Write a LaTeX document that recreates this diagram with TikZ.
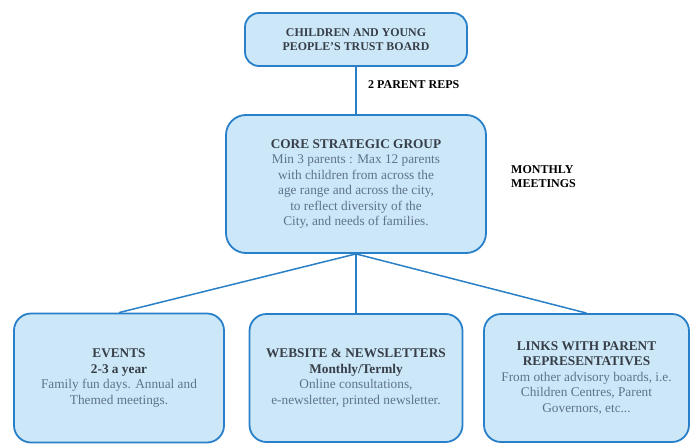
\documentclass[tikz,border=0pt]{standalone}
\usepackage{fontspec}
\setmainfont{Liberation Serif}
\usepackage{tikz}
\usetikzlibrary{shapes,trees,positioning}

\definecolor{boxfill}{RGB}{204,232,248}
\definecolor{boxline}{RGB}{41,128,200}
\definecolor{headtext}{RGB}{55,62,72}
\definecolor{bodytext}{RGB}{95,115,135}

\newcommand{\hd}[1]{{\bfseries\color{headtext}#1}}

\begin{document}
\begin{tikzpicture}[level distance=144.5pt,
                level 2/.style={level distance=194pt, sibling distance=233pt},
                box/.style = {draw=boxline, line width=1.8pt, fill=boxfill, rounded corners=17pt,
                              align=center, text=bodytext, inner sep=2pt,
                              font=\fontsize{13.3}{15.5}\selectfont},
                note/.style = {font=\fontsize{12}{14}\selectfont\bfseries, text=black, inner sep=0pt},
                edge from parent/.style = {draw=boxline, line width=1.5pt},
                edge from parent path = {(\tikzparentnode.south) -- (\tikzchildnode.north)}
                ]
                \useasboundingbox (0pt,0pt) rectangle (690pt,-444pt);
                \node[box, minimum width=222pt, minimum height=53pt, rounded corners=14pt,
                      font=\fontsize{11.9}{14}\selectfont] (board) at (356pt,-39.5pt)
                      {\hd{CHILDREN AND YOUNG}\\ \hd{PEOPLE'S TRUST BOARD}}
                    child {node[box, minimum width=260pt, minimum height=138pt, rounded corners=20pt] (core)
                        {\hd{CORE STRATEGIC GROUP}\\ Min 3 parents : Max 12 parents\\ with children from across the\\
                         age range and across the city,\\ to reflect diversity of the\\ City, and needs of families.}
                        child {node[box, xshift=-4pt, minimum width=210pt, minimum height=129pt] (events)
                            {\hd{EVENTS}\\ \hd{2-3 a year}\\ Family fun days. Annual and\\ Themed meetings.}}
                        child {node[box, minimum width=213pt, minimum height=128pt] (web)
                            {\hd{WEBSITE \& NEWSLETTERS}\\ \hd{Monthly/Termly}\\ Online consultations,\\ e-newsletter, printed newsletter.}}
                        child {node[box, xshift=-2.5pt, minimum width=205pt, minimum height=128pt] (links)
                            {\hd{LINKS WITH PARENT}\\ \hd{REPRESENTATIVES}\\ From other advisory boards, i.e.\\ Children Centres, Parent\\ Governors, etc...}}
                    };
                \node[note, anchor=west] (reps) at (368pt,-85pt) {2 PARENT REPS};
                \node[note, anchor=west, align=left] (meet) at (511pt,-177pt) {MONTHLY\\ MEETINGS};
            \end{tikzpicture}
\end{document}
